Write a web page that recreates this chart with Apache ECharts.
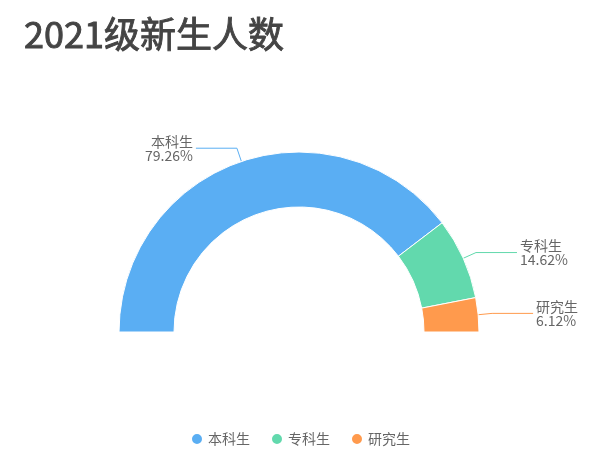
<!DOCTYPE html>
<html>
<head>
<meta charset="utf-8">
<script src="https://cdn.jsdelivr.net/npm/echarts@6/dist/echarts.min.js"></script>
<style>
html,body{margin:0;padding:0;background:#fff;}
#main{width:600px;height:470px;}
</style>
</head>
<body>
<div id="main"></div>
<script>
// 数据
var categories = ['本科生', '专科生', '研究生'];
var percents = [79.26, 14.62, 6.12];
var colors = ['#5AAEF3', '#62D9AD', '#FF9A4D'];

var pieData = categories.map(function (name, i) {
    return { name: name, value: percents[i] };
});

var myChart = echarts.init(document.getElementById('main'));

var option = {
    color: colors,
    title: {
        text: '2021级新生人数',
        left: 19,
        top: 11,
        textStyle: {
            fontFamily: 'Noto Sans CJK SC',
            fontSize: 36,
            fontWeight: 'normal',
            color: '#444',
            // 稍微加粗一点
            textBorderColor: '#444',
            textBorderWidth: 0.9
        }
    },
    legend: {
        bottom: 19,
        icon: 'circle',
        itemWidth: 12,
        itemHeight: 12,
        itemGap: 20,
        textStyle: {
            fontFamily: 'Noto Sans CJK SC',
            fontSize: 14,
            color: '#666'
        },
        data: categories
    },
    series: [{
        type: 'pie',
        center: [299, 332],
        radius: [125, 180],
        startAngle: 180,
        endAngle: 0,
        itemStyle: {
            borderColor: '#fff',
            borderWidth: 1
        },
        label: {
            formatter: '{b}\n{d}%',
            fontFamily: 'Noto Sans CJK SC',
            fontSize: 14,
            lineHeight: 14,
            color: '#666',
            distanceToLabelLine: 3
        },
        labelLine: {
            length: 14,
            length2: 41
        },
        data: pieData
    }]
};

myChart.setOption(option);
</script>
</body>
</html>
